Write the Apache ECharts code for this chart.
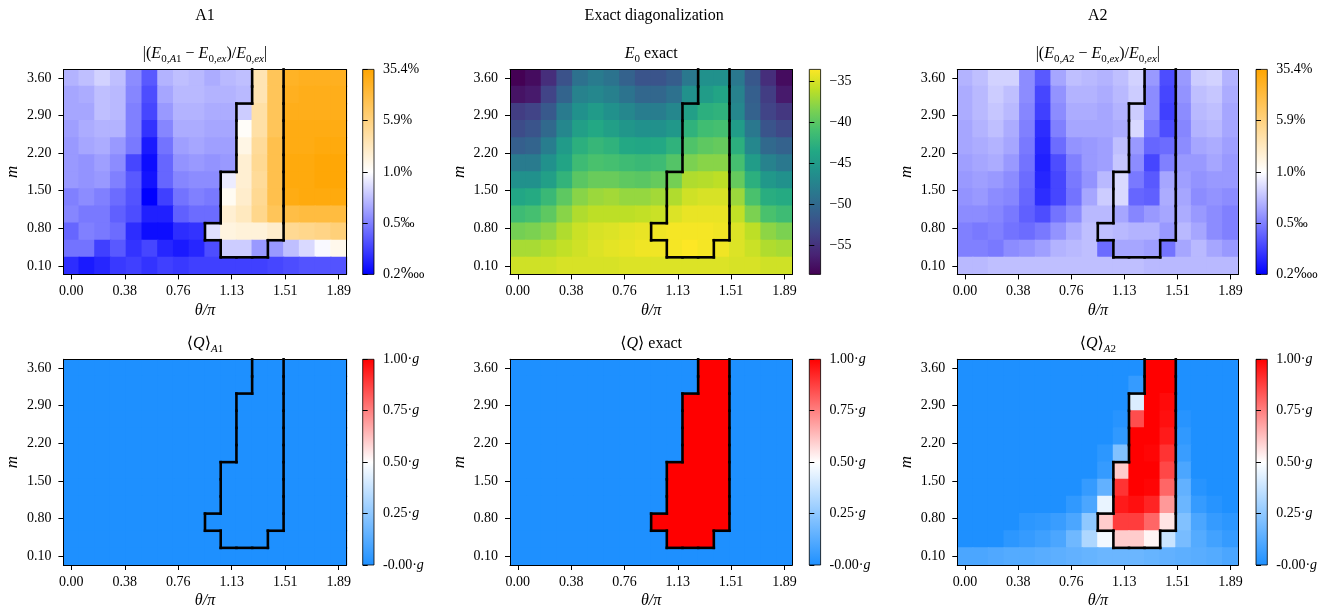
<!DOCTYPE html>
<html><head><meta charset="utf-8">
<script src="https://cdn.jsdelivr.net/npm/echarts@6/dist/echarts.min.js"></script>
<style>html,body{margin:0;padding:0;background:#fff}#c{width:1331px;height:609px}</style>
</head><body><div id="c"></div><script>
// ---------------- data ----------------
const thetaVals = [0.000,0.111,0.222,0.333,0.444,0.556,0.667,0.778,0.889,1.000,1.111,1.222,1.333,1.444,1.556,1.667,1.778,1.889];
const mVals = [0.100,0.418,0.736,1.055,1.373,1.691,2.009,2.327,2.645,2.964,3.282,3.600];
const thetaTicks = [0.000,0.378,0.756,1.133,1.511,1.889];
const mTicks = [0.10,0.80,1.50,2.20,2.90,3.60];
const errTickLabels = ['0.2\u2031','0.5\u2030','1.0%','5.9%','35.4%']; // colorbar levels 0..4
const e0Ticks = [-55,-50,-45,-40,-35];
const qTicks = [0,0.25,0.5,0.75,1];

// all grids: rows listed from top (m = 3.60) to bottom (m = 0.10), columns theta/pi = 0 .. 1.889
// relative error, expressed as colorbar level (0 = 0.2‱ ... 2 = 1.0% ... 4 = 35.4%)
const errA1 = [
 [1.4,1.5,1.65,1.5,1.1,0.7,1.4,1.5,1.45,1.35,1.45,1.5,2.6,3.3,3.7,3.75,3.75,3.75],
 [1.3,1.35,1.5,1.45,1.05,0.6,1.3,1.45,1.45,1.4,1.4,1.45,2.6,3.3,3.75,3.8,3.8,3.8],
 [1.3,1.3,1.5,1.45,1.0,0.55,1.2,1.4,1.4,1.35,1.35,1.6,2.7,3.3,3.8,3.8,3.8,3.8],
 [1.25,1.35,1.4,1.4,1.0,0.4,1.05,1.35,1.35,1.3,1.3,2.05,2.7,3.3,3.85,3.85,3.85,3.85],
 [1.2,1.3,1.35,1.2,0.95,0.2,0.9,1.25,1.3,1.25,1.25,2.2,2.8,3.4,3.85,3.85,3.9,3.9],
 [1.2,1.15,1.25,1.1,0.55,0.1,0.8,1.15,1.2,1.15,1.2,2.35,2.85,3.4,3.9,3.9,3.95,3.95],
 [1.2,1.15,1.2,1.0,0.7,0.15,0.8,1.05,1.1,1.1,1.85,2.35,2.8,3.4,3.9,3.9,3.95,3.95],
 [1.0,1.1,1.0,0.85,0.65,0.0,0.5,0.9,1.0,0.95,2.1,2.4,2.85,3.4,3.85,3.9,3.9,3.9],
 [1.05,0.95,0.95,0.75,0.6,0.25,0.25,0.75,0.85,0.85,2.35,2.5,2.9,3.3,3.45,3.5,3.5,3.5],
 [0.8,1.0,0.95,0.85,0.35,0.1,0.1,0.35,0.4,1.75,2.25,2.3,2.3,2.4,2.85,2.9,2.95,3.05],
 [0.9,0.9,0.5,0.7,0.4,0.55,0.3,0.2,0.3,0.6,1.6,1.6,1.2,1.2,1.5,1.7,1.95,2.15],
 [0.35,0.2,0.3,0.45,0.5,0.4,0.5,0.45,0.5,0.5,0.5,0.5,0.5,0.55,0.6,0.65,0.65,0.65]
];
const errA2 = [
 [1.4,1.5,1.65,1.65,1.1,0.7,1.3,1.5,1.45,1.4,1.5,1.65,1.2,0.6,1.2,1.6,1.65,1.4],
 [1.35,1.45,1.6,1.5,1.1,0.55,1.15,1.4,1.4,1.35,1.45,1.6,1.1,0.55,1.15,1.5,1.55,1.35],
 [1.35,1.45,1.55,1.45,1.05,0.5,1.1,1.35,1.35,1.3,1.4,1.6,1.1,0.5,1.1,1.45,1.5,1.3],
 [1.3,1.4,1.5,1.35,1.0,0.35,1.0,1.3,1.3,1.3,1.35,1.7,0.95,0.6,1.05,1.4,1.45,1.3],
 [1.3,1.35,1.4,1.3,0.95,0.3,0.85,1.15,1.2,1.25,1.5,1.2,0.8,0.85,1.1,1.3,1.35,1.25],
 [1.25,1.3,1.35,1.2,0.9,0.25,0.6,1.0,1.2,1.25,1.55,1.1,0.55,1.0,1.2,1.2,1.3,1.2],
 [1.2,1.25,1.2,1.1,0.85,0.3,0.55,0.95,1.15,1.45,1.7,0.95,0.7,1.3,1.25,1.15,1.2,1.2],
 [1.15,1.2,1.1,1.05,0.8,0.35,0.55,0.9,1.3,1.6,1.7,0.8,0.75,1.35,1.3,1.1,1.15,1.1],
 [1.1,1.1,1.05,0.95,0.75,0.6,0.9,1.1,1.45,1.45,1.3,1.05,1.2,1.3,1.35,1.2,1.1,1.0],
 [1.0,0.95,1.0,0.9,0.85,0.95,1.15,1.35,1.5,1.5,1.45,1.4,1.4,1.2,1.45,1.3,1.1,1.0],
 [1.0,1.0,0.95,1.1,1.15,1.25,1.4,1.45,1.5,0.85,1.3,1.3,1.25,0.9,1.3,1.45,1.3,1.2],
 [1.45,1.45,1.5,1.5,1.5,1.5,1.5,1.5,1.5,1.5,1.5,1.5,1.45,1.45,1.45,1.45,1.45,1.45]
];
const e0Exact = [
 [-58.6,-57.8,-55.3,-52.3,-49.3,-48.3,-49.1,-50.8,-52.1,-52.1,-51.3,-48.6,-46.1,-46.1,-48.6,-51.8,-55.3,-57.8],
 [-57.3,-56.8,-53.6,-50.6,-47.6,-47.1,-47.8,-49.1,-50.3,-50.3,-49.3,-46.1,-44.8,-44.0,-47.6,-51.1,-54.1,-56.8],
 [-54.1,-53.6,-51.6,-48.3,-46.1,-45.0,-46.1,-47.1,-48.1,-48.1,-47.1,-44.5,-42.8,-42.5,-47.1,-50.8,-53.6,-54.6],
 [-52.8,-52.1,-50.1,-47.1,-44.5,-43.5,-44.5,-45.5,-46.1,-46.1,-45.3,-42.5,-41.3,-41.0,-44.8,-48.6,-52.1,-53.1],
 [-51.1,-50.6,-48.1,-45.0,-42.8,-42.0,-42.5,-43.5,-43.8,-43.5,-42.5,-40.5,-39.8,-39.5,-42.8,-47.1,-50.1,-50.8],
 [-48.3,-48.3,-46.1,-44.0,-41.5,-40.8,-41.0,-41.5,-41.8,-41.5,-40.3,-38.5,-38.0,-38.0,-41.0,-44.8,-47.6,-48.6],
 [-46.1,-46.1,-44.5,-42.3,-40.0,-39.3,-39.3,-39.8,-40.0,-39.5,-38.8,-36.5,-36.3,-36.0,-39.5,-42.8,-45.3,-46.1],
 [-43.8,-43.3,-41.8,-39.8,-38.0,-37.3,-37.0,-37.5,-37.5,-37.0,-36.5,-35.3,-35.0,-35.0,-37.3,-40.8,-43.0,-43.3],
 [-41.5,-41.0,-39.8,-38.0,-36.5,-36.0,-36.0,-36.0,-35.8,-35.5,-34.8,-34.3,-34.3,-34.3,-35.8,-38.5,-40.8,-41.5],
 [-38.8,-38.5,-37.8,-36.5,-35.5,-35.0,-34.8,-34.5,-34.3,-34.0,-33.8,-33.8,-33.8,-34.0,-34.8,-36.0,-37.8,-38.5],
 [-36.8,-36.8,-36.3,-35.8,-35.3,-34.8,-34.5,-34.3,-34.0,-34.0,-33.8,-33.5,-33.8,-34.0,-34.8,-35.5,-36.5,-36.8],
 [-35.3,-35.3,-35.3,-35.0,-35.0,-35.0,-35.0,-34.8,-34.8,-34.8,-34.8,-34.8,-34.8,-34.8,-35.0,-35.0,-35.3,-35.3]
];
const qA1 = [
 [0,0,0,0,0,0,0,0,0,0,0,0,0,0,0,0,0,0],
 [0,0,0,0,0,0,0,0,0,0,0,0,0,0,0,0,0,0],
 [0,0,0,0,0,0,0,0,0,0,0,0,0,0,0,0,0,0],
 [0,0,0,0,0,0,0,0,0,0,0,0,0,0,0,0,0,0],
 [0,0,0,0,0,0,0,0,0,0,0,0,0,0,0,0,0,0],
 [0,0,0,0,0,0,0,0,0,0,0,0,0,0,0,0,0,0],
 [0,0,0,0,0,0,0,0,0,0,0,0,0,0,0,0,0,0],
 [0,0,0,0,0,0,0,0,0,0,0,0,0,0,0,0,0,0],
 [0,0,0,0,0,0,0,0,0,0,0,0,0,0,0,0,0,0],
 [0,0,0,0,0,0,0,0,0,0,0,0,0,0,0,0,0,0],
 [0,0,0,0,0,0,0,0,0,0,0,0,0,0,0,0,0,0],
 [0,0,0,0,0,0,0,0,0,0,0,0,0,0,0,0,0,0]
];
const qExact = [
 [0,0,0,0,0,0,0,0,0,0,0,0,1,1,0,0,0,0],
 [0,0,0,0,0,0,0,0,0,0,0,0,1,1,0,0,0,0],
 [0,0,0,0,0,0,0,0,0,0,0,1,1,1,0,0,0,0],
 [0,0,0,0,0,0,0,0,0,0,0,1,1,1,0,0,0,0],
 [0,0,0,0,0,0,0,0,0,0,0,1,1,1,0,0,0,0],
 [0,0,0,0,0,0,0,0,0,0,0,1,1,1,0,0,0,0],
 [0,0,0,0,0,0,0,0,0,0,1,1,1,1,0,0,0,0],
 [0,0,0,0,0,0,0,0,0,0,1,1,1,1,0,0,0,0],
 [0,0,0,0,0,0,0,0,0,0,1,1,1,1,0,0,0,0],
 [0,0,0,0,0,0,0,0,0,1,1,1,1,1,0,0,0,0],
 [0,0,0,0,0,0,0,0,0,0,1,1,1,0,0,0,0,0],
 [0,0,0,0,0,0,0,0,0,0,0,0,0,0,0,0,0,0]
];
const qA2 = [
 [0,0,0,0,0,0,0,0,0,0,0,0,1,1,0,0,0,0],
 [0,0,0,0,0,0,0,0,0,0,0,0.05,1,1,0,0,0,0],
 [0,0,0,0,0,0,0,0,0,0,0,0.42,1,0.98,0,0,0,0],
 [0,0,0,0,0,0,0,0,0,0,0.02,0.85,1,0.97,0.02,0,0,0],
 [0,0,0,0,0,0,0,0,0,0,0.04,1,1,0.95,0.04,0,0,0],
 [0,0,0,0,0,0,0,0,0,0.03,0.22,1,0.99,0.9,0.06,0,0,0],
 [0,0,0,0,0,0,0,0,0,0.05,0.6,1,1,0.86,0.1,0,0,0],
 [0,0,0,0,0,0,0,0,0.05,0.15,0.9,1,0.99,0.8,0.15,0.02,0,0],
 [0,0,0,0,0,0,0,0.04,0.1,0.45,0.95,0.97,0.93,0.7,0.17,0.05,0.02,0],
 [0,0,0,0,0.03,0.04,0.06,0.1,0.25,0.6,0.88,0.88,0.8,0.55,0.22,0.1,0.05,0.03],
 [0,0,0,0.03,0.05,0.07,0.1,0.18,0.32,0.47,0.6,0.6,0.52,0.38,0.2,0.12,0.08,0.05],
 [0.1,0.1,0.11,0.12,0.12,0.13,0.14,0.15,0.16,0.17,0.17,0.17,0.16,0.15,0.14,0.13,0.12,0.1]
];

// ---------------- layout / style ----------------
const SERIF = "'Liberation Serif','DejaVu Serif',serif";
const FS = 14;
const colsX = [{left:63.4, width:283.2, cb:362.7}, {left:510, width:282.3, cb:809.3}, {left:957.3, width:281, cb:1256}];
const rowsY = [{top:69.4, height:205}, {top:359.3, height:205.7}];
const CBW = 11.3;
const viridis = ['#440154','#482475','#414487','#355f8d','#2a788e','#21918c','#22a884','#44bf70','#7ad151','#bddf26','#fde725'];
const cmaps = {
  err: {min:0, max:4, colors:['#0000ff','#ffffff','#ffa500']},
  e0:  {min:-58.6, max:-33.5, colors:viridis},
  q:   {min:0, max:1, colors:['#1e90ff','#ffffff','#ff0000']}
};
const rich = {
  n:{fontFamily:SERIF, fontSize:16, color:'#000', lineHeight:22},
  i:{fontFamily:SERIF, fontSize:16, fontStyle:'italic', color:'#000', lineHeight:22},
  s:{fontFamily:SERIF, fontSize:11, color:'#000', verticalAlign:'bottom', lineHeight:11},
  si:{fontFamily:SERIF, fontSize:11, fontStyle:'italic', color:'#000', verticalAlign:'bottom', lineHeight:11}
};
const panels = [
  {rows:errA1, c:0, r:0, cmap:'err', title:'{n|\u007C(}{i|E}{s|0,}{si|A}{s|1}{n| \u2212 }{i|E}{s|0,}{si|ex}{n|)/}{i|E}{s|0,}{si|ex}{n|\u007C}'},
  {rows:e0Exact, c:1, r:0, cmap:'e0', title:'{i|E}{s|0}{n| exact}'},
  {rows:errA2, c:2, r:0, cmap:'err', title:'{n|\u007C(}{i|E}{s|0,}{si|A}{s|2}{n| \u2212 }{i|E}{s|0,}{si|ex}{n|)/}{i|E}{s|0,}{si|ex}{n|\u007C}'},
  {rows:qA1, c:0, r:1, cmap:'q', title:'{n|\u27E8}{i|Q}{n|\u27E9}{si|A}{s|1}'},
  {rows:qExact, c:1, r:1, cmap:'q', title:'{n|\u27E8}{i|Q}{n|\u27E9 exact}'},
  {rows:qA2, c:2, r:1, cmap:'q', title:'{n|\u27E8}{i|Q}{n|\u27E9}{si|A}{s|2}'}
];

const nC = thetaVals.length, nR = mVals.length;
const dT = (thetaVals[nC-1]-thetaVals[0])/(nC-1);
const dM = (mVals[nR-1]-mVals[0])/(nR-1);
const xMin = thetaVals[0]-dT/2, xMax = thetaVals[nC-1]+dT/2;
const yMin = mVals[0]-dM/2, yMax = mVals[nR-1]+dM/2;

// boundary of the exact <Q> region (edges between inside / outside cells)
const inside = (j,i) => qExact[nR-1-j][i] > 0.5;
const segs = [];
for (let j=0;j<nR;j++) for (let i=0;i<nC;i++) {
  if (!inside(j,i)) continue;
  const x=thetaVals[i], y=mVals[j];
  if (i+1<nC && !inside(j,i+1)) segs.push([x+dT/2,y-dM/2,x+dT/2,y+dM/2]);
  if (i-1>=0 && !inside(j,i-1)) segs.push([x-dT/2,y-dM/2,x-dT/2,y+dM/2]);
  if (j+1<nR && !inside(j+1,i)) segs.push([x-dT/2,y+dM/2,x+dT/2,y+dM/2]);
  if (j-1>=0 && !inside(j-1,i)) segs.push([x-dT/2,y-dM/2,x+dT/2,y-dM/2]);
}

const grids=[], xAxes=[], yAxes=[], series=[], visualMaps=[], graphics=[];
const tickLabelStyle = {color:'#000', fontFamily:SERIF, fontSize:FS};
const lineBlack = {color:'#000', width:1};

function cellRender(params, api){
  const x=api.value(0), y=api.value(1);
  const a=api.coord([x-dT/2, y-dM/2]), b=api.coord([x+dT/2, y+dM/2]);
  const c=api.visual('color');
  return {type:'rect', shape:{x:a[0]-0.6, y:b[1]-0.6, width:b[0]-a[0]+1.2, height:a[1]-b[1]+1.2}, style:{fill:c}};
}
function segRender(params, api){
  const a=api.coord([api.value(0), api.value(1)]), b=api.coord([api.value(2), api.value(3)]);
  return {type:'line', shape:{x1:a[0],y1:a[1],x2:b[0],y2:b[1]}, style:{stroke:'#000', lineWidth:2.6, lineCap:'square'}};
}

panels.forEach((p, k) => {
  const cx = colsX[p.c], ry = rowsY[p.r];
  const g = grids.length;
  grids.push({left:cx.left, top:ry.top, width:cx.width, height:ry.height, outerBoundsMode:'none', containLabel:false});
  const xb = xAxes.length;
  xAxes.push({gridIndex:g, type:'value', min:xMin, max:xMax, position:'bottom', z:10,
    axisLine:{show:true, onZero:false, lineStyle:lineBlack},
    axisTick:{show:true, length:5, customValues:thetaTicks, lineStyle:lineBlack},
    axisLabel:{customValues:thetaTicks, formatter:v=>v.toFixed(2), margin:10, ...tickLabelStyle},
    splitLine:{show:false},
    name:'\u03B8/\u03C0', nameLocation:'middle', nameGap:28,
    nameTextStyle:{fontFamily:SERIF, fontSize:16, fontStyle:'italic', color:'#000'}});
  xAxes.push({gridIndex:g, type:'value', min:xMin, max:xMax, position:'top', z:10,
    axisLine:{show:true, onZero:false, lineStyle:lineBlack}, axisTick:{show:false}, axisLabel:{show:false}, splitLine:{show:false}});
  const yb = yAxes.length;
  yAxes.push({gridIndex:g, type:'value', min:yMin, max:yMax, position:'left', z:10,
    axisLine:{show:true, onZero:false, lineStyle:lineBlack},
    axisTick:{show:true, length:5, customValues:mTicks, lineStyle:lineBlack},
    axisLabel:{customValues:mTicks, formatter:v=>v.toFixed(2), margin:12, ...tickLabelStyle},
    splitLine:{show:false},
    name:'m', nameLocation:'middle', nameGap:42, nameRotate:90,
    nameTextStyle:{fontFamily:SERIF, fontSize:17, fontStyle:'italic', color:'#000'}});
  yAxes.push({gridIndex:g, type:'value', min:yMin, max:yMax, position:'right', z:10,
    axisLine:{show:true, onZero:false, lineStyle:lineBlack}, axisTick:{show:false}, axisLabel:{show:false}, splitLine:{show:false}});

  const cells=[];
  p.rows.forEach((row, r) => { const j = nR-1-r; row.forEach((v,i)=>cells.push([thetaVals[i], mVals[j], v])); });
  const sIdx = series.length;
  series.push({type:'custom', xAxisIndex:xb, yAxisIndex:yb, data:cells, renderItem:cellRender, z:2, silent:true, clip:true});
  series.push({type:'custom', xAxisIndex:xb, yAxisIndex:yb, data:segs, renderItem:segRender, z:5, silent:true, clip:false});
  const cm = cmaps[p.cmap];
  visualMaps.push({type:'continuous', show:false, seriesIndex:sIdx, dimension:2, min:cm.min, max:cm.max, inRange:{color:cm.colors}});

  // colorbar
  const gc = grids.length;
  grids.push({left:cx.cb, top:ry.top, width:CBW, height:ry.height, outerBoundsMode:'none', containLabel:false});
  const xc = xAxes.length;
  xAxes.push({gridIndex:gc, type:'value', min:0, max:1, show:false});
  const yc = yAxes.length;
  const yAx = {gridIndex:gc, type:'value', min:cm.min, max:cm.max, position:'right', z:10,
    axisLine:{show:false}, splitLine:{show:false},
    axisTick:{show:true, length:5, lineStyle:lineBlack},
    axisLabel:{margin:9, ...tickLabelStyle}};
  if (p.cmap==='err') {
    yAx.interval = 1;
    yAx.axisLabel.formatter = v => errTickLabels[Math.round(v)];
  } else if (p.cmap==='e0') {
    yAx.axisTick.customValues = e0Ticks;
    yAx.axisLabel.customValues = e0Ticks;
    yAx.axisLabel.formatter = v => '\u2212' + Math.abs(v);
  } else {
    yAx.axisTick.customValues = qTicks;
    yAx.axisLabel.customValues = qTicks;
    yAx.axisLabel.formatter = v => '{a|' + (v===0 ? '-0.00' : v.toFixed(2)) + '\u00B7}{g|g}';
    yAx.axisLabel.rich = {a:{fontFamily:SERIF, fontSize:FS, color:'#000'}, g:{fontFamily:SERIF, fontSize:FS, fontStyle:'italic', color:'#000'}};
  }
  yAxes.push(yAx);
  const stops = cm.colors.map((c,i)=>({offset:i/(cm.colors.length-1), color:c}));
  series.push({type:'custom', xAxisIndex:xc, yAxisIndex:yc, data:[[0]], silent:true, z:2,
    renderItem:(params, api) => {
      const a=api.coord([0, cm.min]), b=api.coord([1, cm.max]);
      return {type:'rect', shape:{x:a[0], y:b[1], width:b[0]-a[0], height:a[1]-b[1]},
        style:{fill:{type:'linear', x:0, y:1, x2:0, y2:0, colorStops:stops}, stroke:'#000', lineWidth:0.8}};
    }});

  // subplot title
  graphics.push({type:'text', x:cx.left+cx.width/2, y:ry.top-16, silent:true,
    style:{text:p.title, align:'center', verticalAlign:'middle', rich:rich, fontFamily:SERIF, fontSize:16, fill:'#000'}});
});

// column titles
[['A1',0],['Exact diagonalization',1],['A2',2]].forEach(([t,c]) => {
  graphics.push({type:'text', x:colsX[c].left+colsX[c].width/2 + (c===1?3:0), y:16, silent:true,
    style:{text:t, align:'center', verticalAlign:'middle', fontFamily:SERIF, fontSize:16, fill:'#000'}});
});

const chart = echarts.init(document.getElementById('c'), null, {renderer:'canvas'});
chart.setOption({
  animation:false,
  backgroundColor:'#fff',
  grid:grids, xAxis:xAxes, yAxis:yAxes, visualMap:visualMaps, series:series,
  graphic:graphics
});
</script></body></html>
